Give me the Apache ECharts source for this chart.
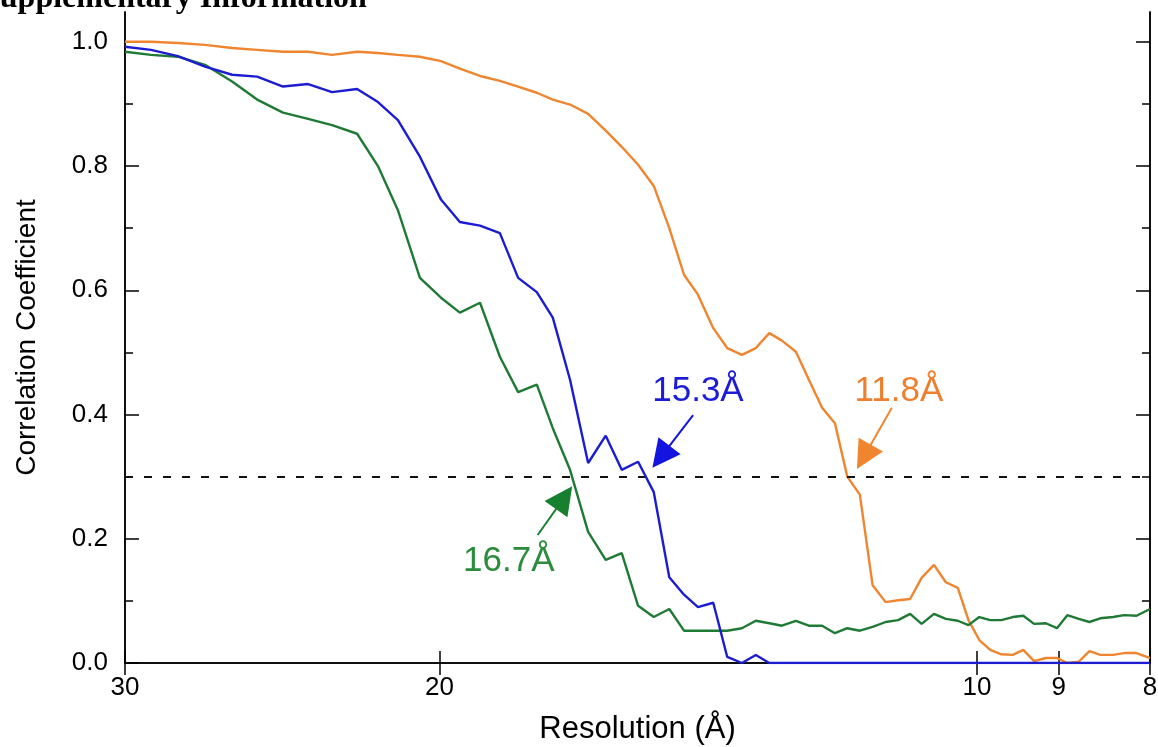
<!DOCTYPE html>
<html>
<head>
<meta charset="utf-8">
<script src="https://cdn.jsdelivr.net/npm/echarts@6.0.0/dist/echarts.min.js"></script>
<style>
html, body { margin: 0; padding: 0; background: #fff; }
#main { width: 1158px; height: 747px; }
</style>
</head>
<body>
<div id="main"></div>
<script>
// resolution grid (Å), shared by the three curves
var resolution = [30.00, 29.01, 28.02, 27.06, 26.13, 25.30, 24.47, 23.69, 22.97, 22.24,
    21.65, 21.10, 20.51, 19.96, 19.48, 18.98, 18.50, 18.07, 17.64, 17.28,
    16.90, 16.51, 16.14, 15.81, 15.48, 15.17, 14.87, 14.59, 14.33, 14.05,
    13.80, 13.54, 13.30, 13.07, 12.86, 12.63, 12.42, 12.21, 12.01, 11.82,
    11.63, 11.44, 11.25, 11.07, 10.90, 10.74, 10.57, 10.41, 10.25, 10.11,
    9.97, 9.83, 9.69, 9.55, 9.42, 9.29, 9.15, 9.02, 8.90, 8.77,
    8.65, 8.53, 8.39, 8.27, 8.14, 8.00];

var orangeCC = [1.000, 1.000, 0.998, 0.995, 0.990, 0.987, 0.984, 0.984, 0.979, 0.984,
    0.982, 0.979, 0.976, 0.969, 0.957, 0.945, 0.937, 0.928, 0.918, 0.907,
    0.899, 0.884, 0.857, 0.831, 0.802, 0.768, 0.700, 0.625, 0.593, 0.539,
    0.507, 0.496, 0.507, 0.531, 0.519, 0.501, 0.456, 0.411, 0.386, 0.300,
    0.271, 0.125, 0.098, 0.101, 0.103, 0.137, 0.158, 0.130, 0.121, 0.069,
    0.037, 0.021, 0.014, 0.013, 0.021, 0.003, 0.008, 0.008, 0.000, 0.002,
    0.019, 0.013, 0.013, 0.016, 0.016, 0.008];

var blueCC = [0.992, 0.987, 0.977, 0.960, 0.947, 0.944, 0.928, 0.932, 0.919, 0.924,
    0.903, 0.874, 0.815, 0.746, 0.710, 0.704, 0.692, 0.620, 0.597, 0.556,
    0.456, 0.322, 0.366, 0.311, 0.324, 0.275, 0.138, 0.110, 0.090, 0.097,
    0.010, 0.000, 0.013, 0.000, 0, 0, 0, 0, 0, 0,
    0, 0, 0, 0, 0, 0, 0, 0, 0, 0,
    0, 0, 0, 0, 0, 0, 0, 0, 0, 0,
    0, 0, 0, 0, 0, 0];

var greenCC = [0.984, 0.979, 0.976, 0.963, 0.936, 0.907, 0.886, 0.876, 0.866, 0.852,
    0.800, 0.729, 0.620, 0.588, 0.564, 0.580, 0.493, 0.436, 0.448, 0.378,
    0.311, 0.211, 0.166, 0.177, 0.092, 0.074, 0.087, 0.052, 0.052, 0.052,
    0.052, 0.056, 0.068, 0.064, 0.060, 0.068, 0.060, 0.060, 0.048, 0.056,
    0.052, 0.058, 0.066, 0.069, 0.079, 0.063, 0.079, 0.071, 0.068, 0.061,
    0.074, 0.069, 0.069, 0.074, 0.076, 0.063, 0.064, 0.056, 0.077, 0.071,
    0.066, 0.072, 0.074, 0.077, 0.076, 0.087];

var xTicks = [30, 20, 10, 9, 8];
var yMajor = [0, 0.2, 0.4, 0.6, 0.8, 1.0];
var yMinor = [0.1, 0.3, 0.5, 0.7, 0.9];
var cutoff = 0.3;

var ORANGE = '#f08530', BLUE = '#1c1cd0', GREEN = '#1f7a36';
var FONT = 'Liberation Sans';

function lg(d) { return Math.log10(d); }
function pairs(vals) {
    return resolution.map(function (d, i) { return [lg(d), vals[i]]; });
}

var XMIN = lg(8), XMAX = lg(30), YMAX = 1.048;
var black = { color: '#000', width: 1.5 };

function xAxisDef(pos, withLabels) {
    var a = {
        type: 'value', position: pos, min: XMIN, max: XMAX, inverse: true,
        axisLine: { show: true, lineStyle: black },
        axisTick: { show: true, inside: true, length: 12, customValues: xTicks.map(lg), lineStyle: black },
        axisLabel: { show: false },
        splitLine: { show: false }
    };
    if (withLabels) {
        a.axisLabel = {
            show: true, customValues: xTicks.map(lg), margin: 12,
            formatter: function (v) { return String(Math.round(Math.pow(10, v))); },
            color: '#000', fontSize: 26, fontFamily: FONT
        };
        a.name = 'Resolution (Å)';
        a.nameLocation = 'middle';
        a.nameGap = 51;
        a.nameTextStyle = { fontSize: 31, color: '#000', fontFamily: FONT };
    }
    return a;
}

function yAxisDef(pos, ticks, len, withLabels) {
    var a = {
        type: 'value', position: pos, min: 0, max: YMAX,
        axisLine: { show: true, lineStyle: black },
        axisTick: { show: true, inside: true, length: len, customValues: ticks, lineStyle: black },
        axisLabel: { show: false },
        splitLine: { show: false }
    };
    if (withLabels) {
        a.axisLabel = {
            show: true, customValues: ticks, margin: 17,
            formatter: function (v) { return v.toFixed(1); },
            color: '#000', fontSize: 26, fontFamily: FONT
        };
        a.name = 'Correlation Coefficient';
        a.nameLocation = 'middle';
        a.nameGap = 84;
        a.nameRotate = 90;
        a.nameTextStyle = { fontSize: 28, color: '#000', fontFamily: FONT };
    }
    return a;
}

function arrow(color, from, to) {
    return {
        silent: true,
        symbol: ['none', 'triangle'],
        symbolSize: 28,
        lineStyle: { color: color, width: 2, type: 'solid' },
        label: { show: false },
        emphasis: { disabled: true },
        data: [[{ coord: [lg(from[0]), from[1]] }, { coord: [lg(to[0]), to[1]] }]]
    };
}

function tag(color, text, at) {
    return {
        silent: true,
        symbol: 'circle',
        symbolSize: 0,
        label: { show: true, position: 'inside', formatter: text, color: color, fontSize: 35, fontFamily: FONT },
        data: [{ coord: [lg(at[0]), at[1]] }]
    };
}

function curve(name, color, vals, z) {
    return {
        name: name, type: 'line', data: pairs(vals), z: z,
        symbol: 'none', showSymbol: false,
        lineStyle: { color: color, width: 2.4 },
        itemStyle: { color: color }
    };
}

var sOrange = curve('orange', ORANGE, orangeCC, 3);
sOrange.markLine = arrow(ORANGE, [11.16, 0.411], [11.57, 0.332]);
sOrange.markPoint = tag('#ee7f2e', '11.8Å', [11.06, 0.438]);

var sGreen = curve('green', GREEN, greenCC, 4);
sGreen.markLine = arrow('#17802f', [17.62, 0.206], [17.03, 0.266]);
sGreen.markPoint = tag('#2a8c3c', '16.7Å', [18.29, 0.163]);

var sBlue = curve('blue', BLUE, blueCC, 5);
sBlue.markLine = arrow('#1414e0', [14.42, 0.399], [15.03, 0.332]);
sBlue.markPoint = tag('#1c1cd6', '15.3Å', [14.33, 0.438]);

var sCut = {
    type: 'line', data: [], z: 2,
    markLine: {
        silent: true, symbol: 'none',
        lineStyle: { color: '#111', width: 2, type: [8, 11] },
        label: { show: false },
        data: [[{ coord: [XMAX, cutoff] }, { coord: [XMIN, cutoff] }]]
    }
};

var chart = echarts.init(document.getElementById('main'), null, { renderer: 'canvas' });
chart.setOption({
    animation: false,
    backgroundColor: '#fff',
    grid: { left: 125, right: 8, top: 12, bottom: 84, outerBoundsMode: 'none', containLabel: false },
    xAxis: [xAxisDef('bottom', true), xAxisDef('top', false)],
    yAxis: [
        yAxisDef('left', yMajor, 14, true),
        yAxisDef('left', yMinor, 8, false),
        yAxisDef('right', yMajor, 14, false),
        yAxisDef('right', yMinor, 8, false)
    ],
    graphic: [{
        type: 'text', x: -18, y: -17,
        style: { text: 'Supplementary Information', font: 'bold 32px "Liberation Serif"', fill: '#000' }
    }],
    series: [sCut, sOrange, sGreen, sBlue]
});
</script>
</body>
</html>
